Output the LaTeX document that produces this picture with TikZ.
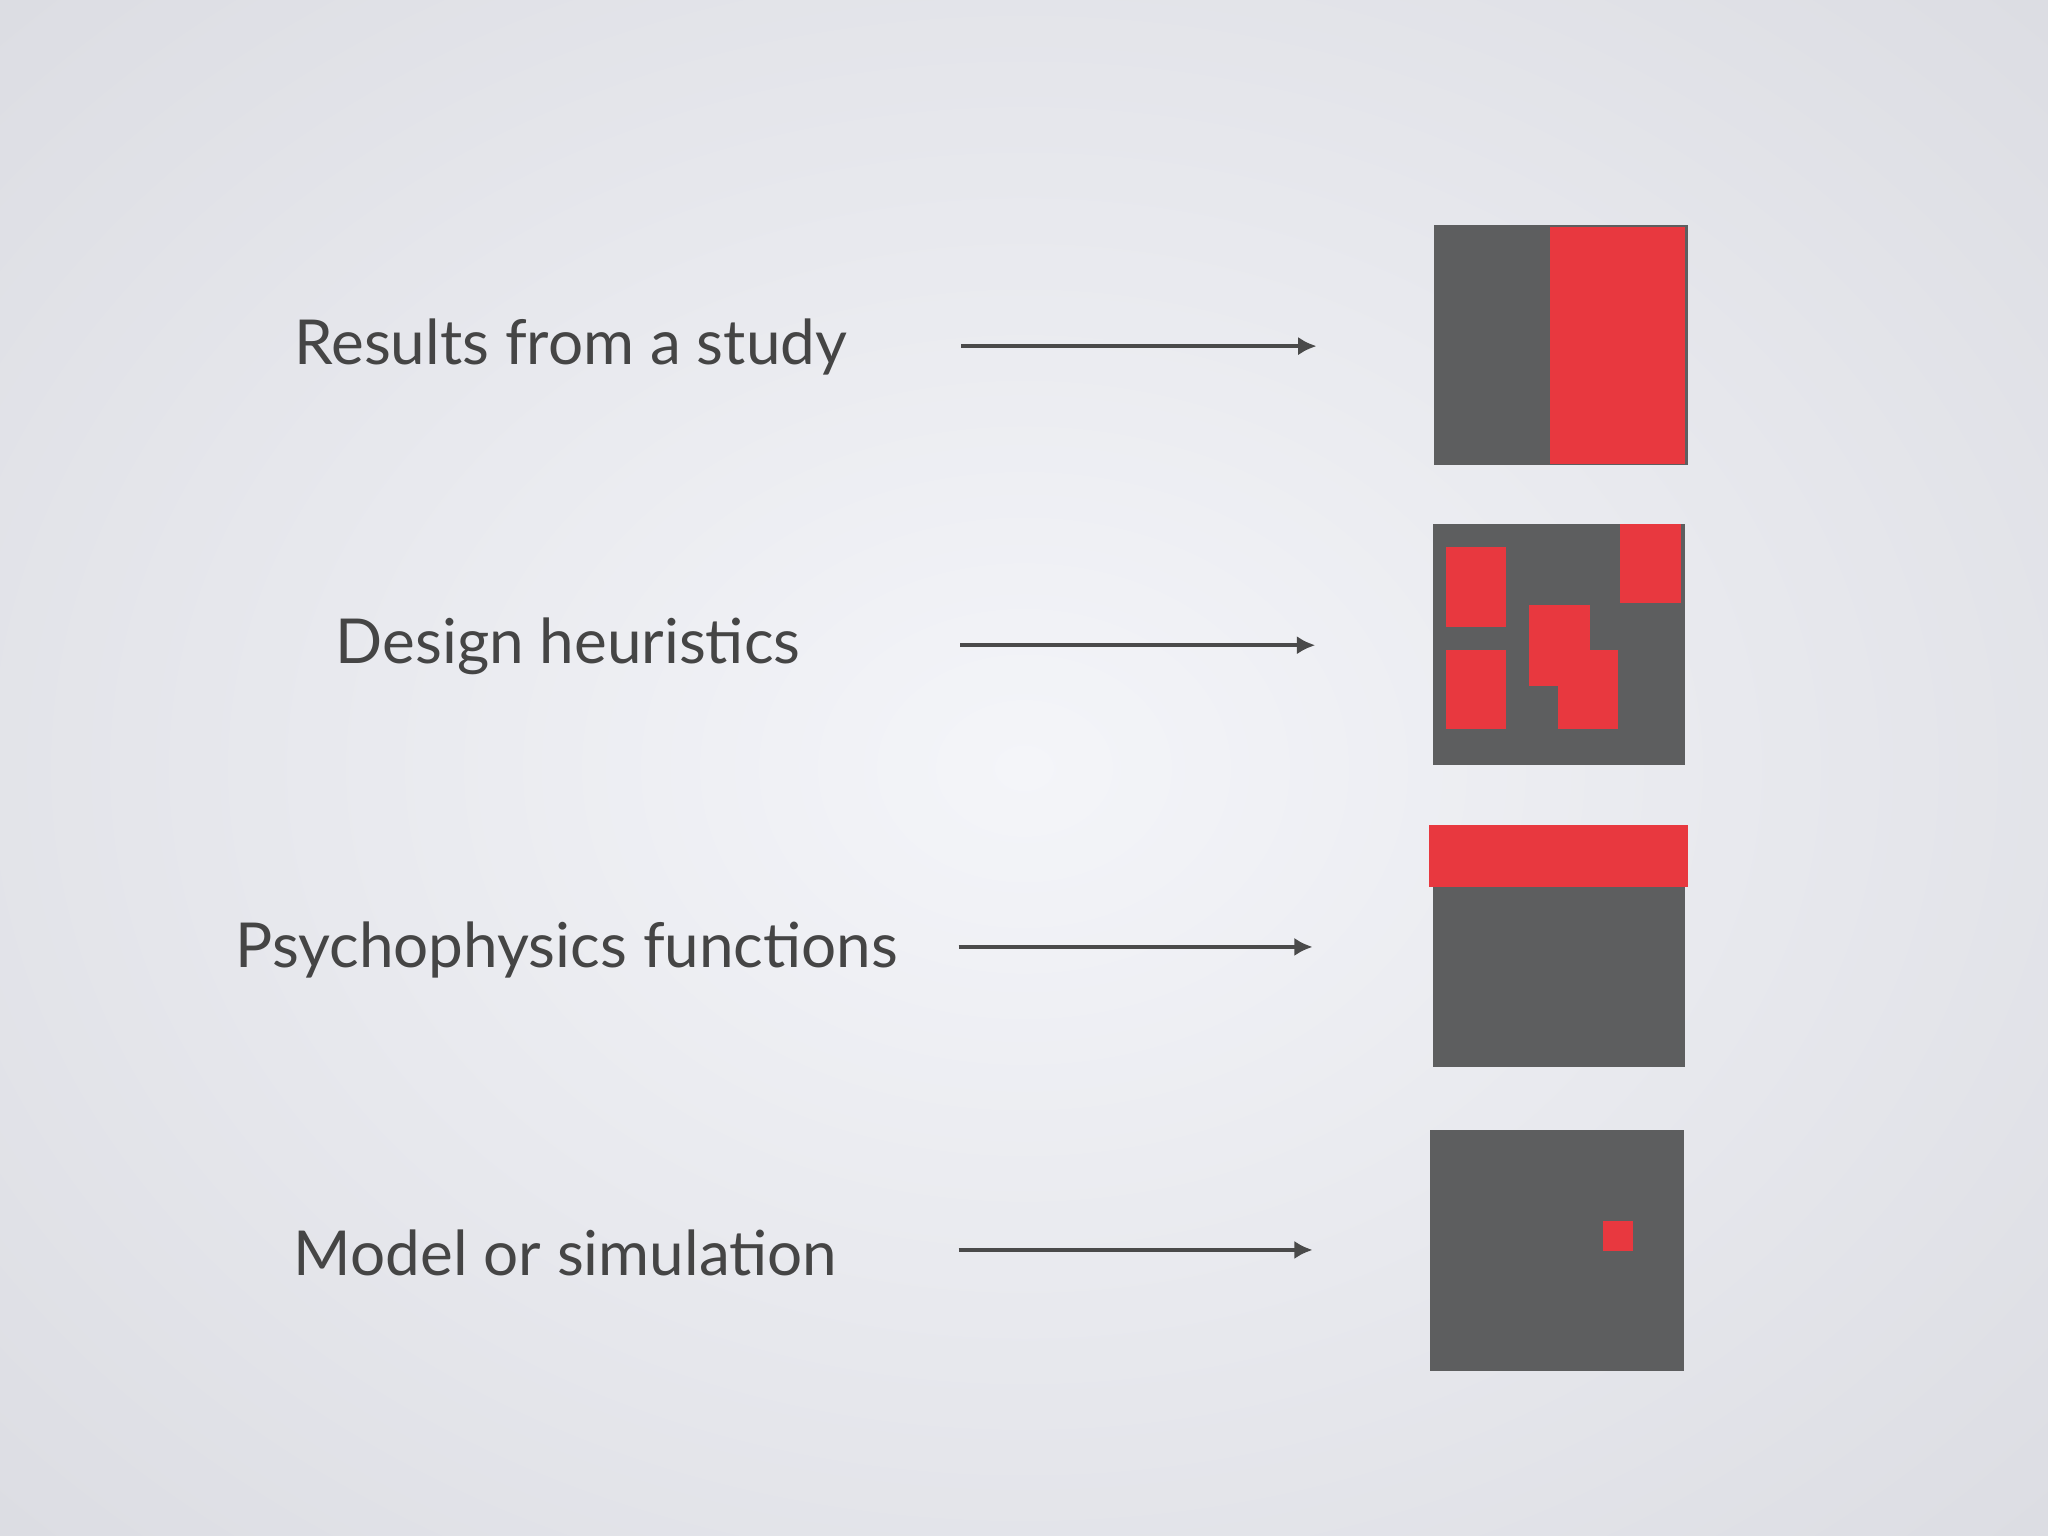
\documentclass[tikz,border=0pt]{standalone}
\usepackage{fontspec}
\usetikzlibrary{arrows.meta}
\setmainfont{Lato}
\definecolor{bgin}{HTML}{F4F5F9}
\definecolor{bgout}{HTML}{DCDDE3}
\definecolor{boxgray}{HTML}{5D5E5F}
\definecolor{hotred}{HTML}{E8383F}
\definecolor{txt}{HTML}{454545}
\definecolor{arr}{HTML}{4A4A4A}
\begin{document}
\begin{tikzpicture}[x=0.01cm,y=-0.01cm,
  lbl/.style={text=txt,font=\fontsize{13.5}{16}\selectfont,inner sep=0pt,anchor=center},
  conn/.style={draw=arr,line width=0.85pt,-{Latex[length=4pt,width=4pt]}},
  panel/.style={fill=boxgray},
  hot/.style={fill=hotred}]
\useasboundingbox (0,0) rectangle (1568,1176);
\shade[inner color=bgin,outer color=bgout] (-300,-250) rectangle (1868,1426);
\clip (0,0) rectangle (1568,1176);
\node[lbl] (t1) at (437,266) {Results from a study};
\node[lbl] (t2) at (435,495) {Design heuristics};
\node[lbl] (t3) at (434,727) {Psychophysics functions};
\node[lbl] (t4) at (433,959) {Model or simulation};
\coordinate (a1s) at (736,265); \coordinate (a1e) at (1008,265);
\coordinate (a2s) at (735,494); \coordinate (a2e) at (1007,494);
\coordinate (a3s) at (734,725); \coordinate (a3e) at (1005,725);
\coordinate (a4s) at (734,957); \coordinate (a4e) at (1005,957);
\draw[conn] (a1s) -- (a1e);
\draw[conn] (a2s) -- (a2e);
\draw[conn] (a3s) -- (a3e);
\draw[conn] (a4s) -- (a4e);
\fill[panel] (1098,172) rectangle (1292,356);
\fill[hot] (1187,174) rectangle (1290,355);
\fill[panel] (1097,401) rectangle (1290,586);
\fill[hot] (1107,419) rectangle (1153,480);
\fill[hot] (1107,498) rectangle (1153,558);
\fill[hot] (1240,401) rectangle (1287,462);
\fill[hot] (1171,463) rectangle (1217,525);
\fill[hot] (1193,498) rectangle (1239,558);
\fill[panel] (1097,632) rectangle (1290,817);
\fill[hot] (1094,632) rectangle (1292,679);
\fill[panel] (1095,865) rectangle (1289,1050);
\fill[hot] (1227,935) rectangle (1250,958);
\end{tikzpicture}
\end{document}
